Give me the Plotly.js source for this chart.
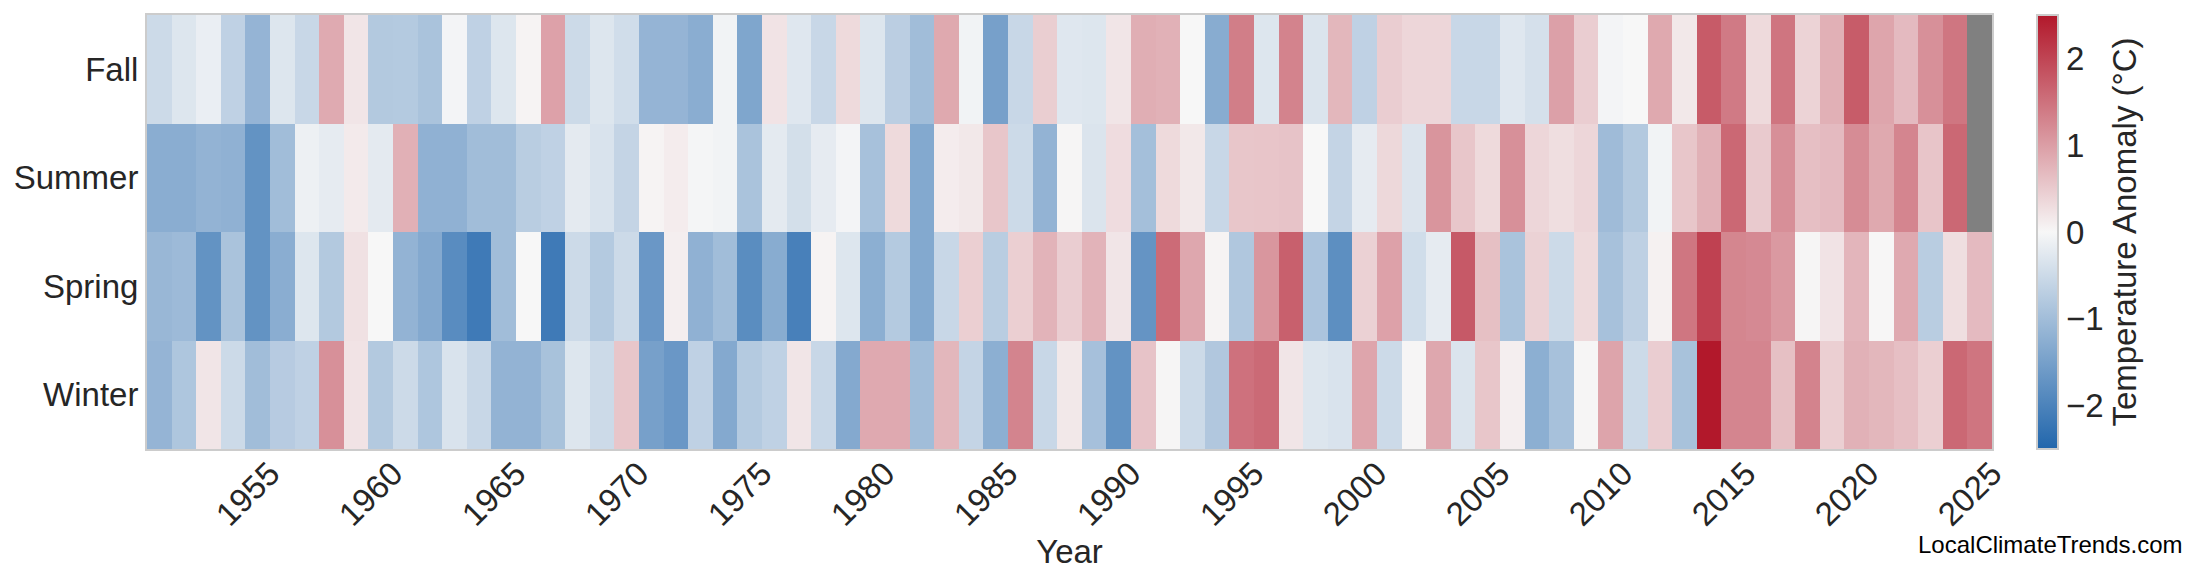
<!DOCTYPE html>
<html>
<head>
<meta charset="utf-8">
<script src="https://cdn.plot.ly/plotly-3.0.1.min.js"></script>
<style>html,body{margin:0;padding:0;background:#ffffff;}</style>
</head>
<body>
<div id="chart" style="width:2200px;height:585px"></div>
<script>
const years = [1951,1952,1953,1954,1955,1956,1957,1958,1959,1960,
  1961,1962,1963,1964,1965,1966,1967,1968,1969,1970,
  1971,1972,1973,1974,1975,1976,1977,1978,1979,1980,
  1981,1982,1983,1984,1985,1986,1987,1988,1989,1990,
  1991,1992,1993,1994,1995,1996,1997,1998,1999,2000,
  2001,2002,2003,2004,2005,2006,2007,2008,2009,2010,
  2011,2012,2013,2014,2015,2016,2017,2018,2019,2020,
  2021,2022,2023,2024,2025];

const seasons = ['Winter', 'Spring', 'Summer', 'Fall'];

const fall = [-0.5,-0.3,-0.15,-0.65,-1.15,-0.3,-0.55,0.86,0.2,-0.8,
  -0.78,-0.9,-0.05,-0.65,-0.3,0.05,0.96,-0.5,-0.3,-0.45,
  -1.15,-1.15,-1.27,-0.07,-1.4,0.22,-0.28,-0.55,0.33,-0.3,
  -0.7,-1.0,0.88,-0.07,-1.5,-0.55,0.46,-0.28,-0.3,0.2,
  0.82,0.78,0.0,-1.3,1.36,-0.3,1.3,-0.33,0.72,-0.65,
  0.47,0.37,0.37,-0.55,-0.55,-0.28,-0.4,0.97,0.47,-0.05,
  0.0,0.88,0.17,1.75,1.4,0.33,1.46,0.4,0.8,1.74,
  0.92,0.68,1.15,1.45,null];

const summer = [-1.27,-1.27,-1.17,-1.2,-1.73,-1.0,-0.12,-0.2,0.15,-0.22,
  0.8,-1.2,-1.2,-1.0,-1.0,-0.72,-0.65,-0.22,-0.35,-0.6,
  0.05,0.12,-0.03,-0.07,-0.9,-0.22,-0.42,-0.2,-0.05,-0.93,
  0.33,-1.35,0.12,0.17,0.55,-0.5,-1.17,0.02,-0.33,0.3,
  -0.97,0.33,0.17,-0.55,0.55,0.56,0.58,0.0,-0.6,-0.2,
  0.35,-0.32,1.1,0.55,0.33,1.15,0.37,0.28,0.37,-1.03,
  -0.8,-0.07,0.55,0.78,1.6,0.5,1.17,0.63,0.68,1.2,
  0.88,1.28,0.56,1.6,null];

const spring = [-1.1,-1.05,-1.73,-0.9,-1.73,-1.27,-0.3,-0.8,0.25,0.0,
  -1.17,-1.34,-1.85,-2.15,-1.0,0.0,-2.15,-0.5,-0.78,-0.5,
  -1.65,0.1,-1.2,-1.0,-1.83,-1.3,-2.05,0.05,-0.3,-1.25,
  -0.78,-1.35,-0.55,0.45,-0.72,0.45,0.76,0.47,0.76,0.2,
  -1.7,1.57,0.9,0.05,-0.83,1.09,1.69,-0.88,-1.8,0.43,
  0.96,-0.45,-0.2,1.77,0.62,-0.9,0.42,-0.5,0.33,-0.93,
  -0.67,0.07,1.45,2.04,1.27,1.23,1.05,0.02,0.22,0.74,
  0.01,0.87,-0.73,0.28,0.68];

const winter = [-1.15,-0.85,0.2,-0.5,-1.0,-0.75,-0.65,1.15,0.22,-0.8,
  -0.5,-0.85,-0.35,-0.55,-1.17,-1.17,-0.92,-0.3,-0.5,0.55,
  -1.5,-1.65,-0.65,-1.34,-0.78,-0.65,0.2,-0.55,-1.34,0.87,
  0.87,-1.0,0.72,-0.6,-1.25,1.29,-0.55,0.17,-0.95,-1.73,
  0.58,0.02,-0.5,-0.82,1.5,1.58,0.2,-0.3,-0.35,0.92,
  -0.5,0.02,0.9,-0.33,0.55,0.1,-1.25,-0.93,0.02,0.93,
  -0.5,0.47,-0.92,2.5,1.28,1.28,0.62,1.3,0.45,0.78,
  0.72,0.63,0.45,1.6,1.46];

const tickYears = [1955,1960,1965,1970,1975,1980,1985,1990,1995,2000,2005,2010,2015,2020,2025];
const tickLabels = ['1955','1960','1965','1970','1975','1980','1985','1990','1995','2000','2005','2010','2015','2020','2025'];
const cbarTicks = [-2, -1, 0, 1, 2];

const textColor = '#262626';
const fontFam = '"Liberation Sans", Arial, Helvetica, sans-serif';
const fs = 33;

const trace = {
  type: 'heatmap',
  x: years,
  y: seasons,
  z: [winter, spring, summer, fall],
  zmin: -2.5,
  zmax: 2.5,
  colorscale: [[0, '#2166ac'], [0.5, '#f7f7f7'], [1, '#b2182b']],
  hoverongaps: false,
  colorbar: {
    x: 1.0244, xanchor: 'left', xpad: 0,
    y: 0.5, yanchor: 'middle', ypad: 0,
    len: 1, lenmode: 'fraction',
    thickness: 21, thicknessmode: 'pixels',
    outlinecolor: '#cccccc', outlinewidth: 2,
    tickvals: cbarTicks,
    ticks: '',
    tickfont: {size: fs, color: textColor, family: fontFam},
    title: {text: 'Temperature Anomaly (°C)', side: 'right', font: {size: fs, color: textColor, family: fontFam}}
  }
};

const layout = {
  width: 2200, height: 585,
  margin: {l: 147, r: 208, t: 15, b: 136, pad: 0},
  paper_bgcolor: '#ffffff',
  plot_bgcolor: '#808080',
  font: {family: fontFam, size: fs, color: textColor},
  xaxis: {
    range: [1950.5, 2025.5],
    tickvals: tickYears.map(v => v + 0.5),
    ticktext: tickLabels,
    tickangle: -45,
    ticks: '',
    ticklabelstandoff: -10,
    showgrid: false, zeroline: false,
    showline: true, mirror: true, linecolor: '#cccccc', linewidth: 2,
    tickfont: {size: fs, color: textColor},
    title: {text: 'Year', standoff: 8, font: {size: fs, color: textColor}},
    automargin: false
  },
  yaxis: {
    showgrid: false, zeroline: false,
    showline: true, mirror: true, linecolor: '#cccccc', linewidth: 2,
    ticks: '',
    tickfont: {size: fs, color: textColor},
    automargin: false
  },
  annotations: [{
    text: 'LocalClimateTrends.com',
    xref: 'paper', yref: 'paper',
    x: 1.1046, xanchor: 'right',
    y: -0.219, yanchor: 'middle',
    showarrow: false,
    font: {size: 24, color: '#000000', family: fontFam}
  }]
};

Plotly.newPlot('chart', [trace], layout, {displayModeBar: false, staticPlot: true});
</script>
</body>
</html>
